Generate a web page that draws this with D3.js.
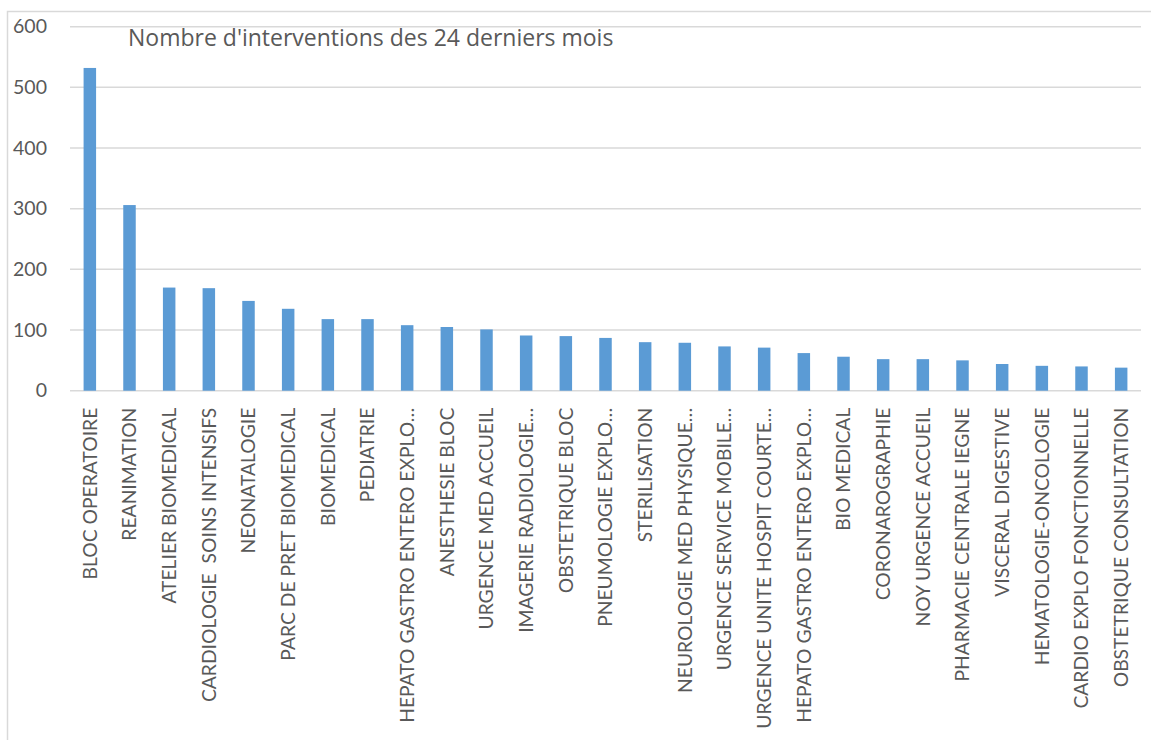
<!DOCTYPE html>
<html>
<head>
<meta charset="utf-8">
<script src="https://cdn.jsdelivr.net/npm/d3@7"></script>
<style>
  html, body { margin: 0; padding: 0; background: #fff; }
  svg text { font-family: Lato, "Open Sans", sans-serif; fill: #595959; white-space: pre; }
</style>
</head>
<body>
<div id="chart"></div>
<script>
// services (labels as shown, truncated ones keep the ellipsis)
const services = [
    "BLOC OPERATOIRE", "REANIMATION", "ATELIER BIOMEDICAL", "CARDIOLOGIE  SOINS INTENSIFS",
    "NEONATALOGIE", "PARC DE PRET BIOMEDICAL", "BIOMEDICAL", "PEDIATRIE",
    "HEPATO GASTRO ENTERO EXPLO…", "ANESTHESIE BLOC", "URGENCE MED ACCUEIL",
    "IMAGERIE RADIOLOGIE…", "OBSTETRIQUE BLOC", "PNEUMOLOGIE EXPLO…", "STERILISATION",
    "NEUROLOGIE MED PHYSIQUE…", "URGENCE SERVICE MOBILE…", "URGENCE UNITE HOSPIT COURTE…",
    "HEPATO GASTRO ENTERO EXPLO…", "BIO MEDICAL", "CORONAROGRAPHIE", "NOY URGENCE ACCUEIL",
    "PHARMACIE CENTRALE IEGNE", "VISCERAL DIGESTIVE", "HEMATOLOGIE-ONCOLOGIE",
    "CARDIO EXPLO FONCTIONNELLE", "OBSTETRIQUE CONSULTATION"
];
const interventions = [
    532, 306, 170, 169, 148, 135, 118, 118, 108, 105, 101, 91, 90, 87, 80,
    79, 73, 71, 62, 56, 52, 52, 50, 44, 41, 40, 38
];
const yTicks = [0, 100, 200, 300, 400, 500, 600];
const title = "Nombre d'interventions des 24 derniers mois";

const width = 1151;
const height = 740;

const svg = d3.select("#chart")
    .append("svg")
    .attr("width", width)
    .attr("height", height);

// chart frame (only left and top visible in the picture)
svg.append("path")
    .attr("d", "M7.5,740 L7.5,11.5 L1151,11.5")
    .attr("fill", "none")
    .attr("stroke", "#d9d9d9")
    .attr("stroke-width", 1.5);

const data = services.map((s, i) => ({ key: i, label: s, value: interventions[i] }));

const x = d3.scaleBand()
    .domain(data.map(d => d.key))
    .range([70, 1141])
    .paddingInner(0.685)
    .paddingOuter(0.3425);

const y = d3.scaleLinear()
    .domain([0, 600])
    .range([390.7, 26.7]);

// gridlines
svg.append("g")
    .selectAll("line")
    .data(yTicks)
    .enter().append("line")
    .attr("x1", 70)
    .attr("x2", 1141)
    .attr("y1", d => y(d))
    .attr("y2", d => y(d))
    .attr("stroke", "#d9d9d9")
    .attr("stroke-width", 1.5);

// y axis labels
const yAxis = svg.append("g")
    .attr("transform", "translate(70,0)")
    .call(d3.axisLeft(y).tickValues(yTicks).tickSize(0).tickPadding(23));
yAxis.select(".domain").remove();
yAxis.selectAll("text")
    .style("font-size", "19.5px")
    .attr("fill", "#595959");

// bars
svg.selectAll(".bar")
    .data(data)
    .enter().append("rect")
    .attr("class", "bar")
    .attr("x", d => x(d.key))
    .attr("y", d => y(d.value))
    .attr("width", x.bandwidth())
    .attr("height", d => y(0) - y(d.value))
    .attr("fill", "#5b9bd5");

// x axis labels, rotated
const xAxis = svg.append("g")
    .attr("transform", "translate(0," + y(0) + ")")
    .call(d3.axisBottom(x).tickSize(0).tickFormat(i => services[i]));
xAxis.select(".domain").remove();
xAxis.selectAll("text")
    .attr("transform", "rotate(-90)")
    .attr("x", -17)
    .attr("y", 0)
    .attr("dy", "0.36em")
    .style("text-anchor", "end")
    .style("font-size", "19.3px")
    .attr("fill", "#595959");

// title
svg.append("text")
    .attr("x", 128)
    .attr("y", 46)
    .style("font-family", "'Open Sans', sans-serif")
    .style("font-size", "23px")
    .text(title);
</script>
</body>
</html>
